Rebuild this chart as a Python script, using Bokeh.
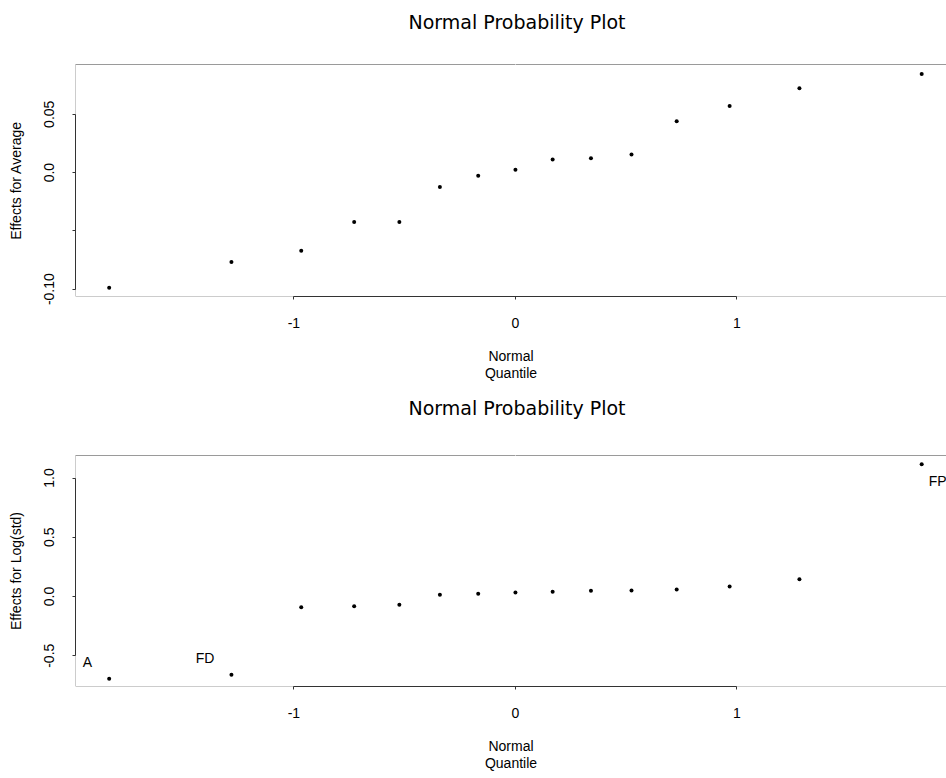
from bokeh.plotting import figure
from bokeh.layouts import column
from bokeh.models import FixedTicker, Span, ColumnDataSource, Range1d, LinearAxis
from bokeh.core.properties import value
from bokeh.embed import file_html
from bokeh.resources import INLINE

# ---- data ----
quantiles = [-1.834, -1.282, -0.967, -0.728, -0.524, -0.341, -0.168, 0.0,
             0.168, 0.341, 0.524, 0.728, 0.967, 1.282, 1.834]
effects_average = [-0.0988, -0.0768, -0.0671, -0.0425, -0.0425, -0.0124, -0.0027, 0.0025,
                   0.0113, 0.0122, 0.0156, 0.0440, 0.0571, 0.0723, 0.0846]
effects_logstd = [-0.695, -0.661, -0.090, -0.082, -0.070, 0.014, 0.023, 0.034,
                  0.040, 0.048, 0.051, 0.059, 0.084, 0.146, 1.116]
labels_logstd = ["A", "FD", "", "", "", "", "", "", "", "", "", "", "", "", "FP"]

x_ticks = [-1, 0, 1]
x_tick_labels = ["-1", "0", "1"]
avg_ticks = [-0.10, -0.05, 0.0, 0.05]
avg_tick_labels = ["-0.10", "", "0.0", "0.05"]
log_ticks = [-0.5, 0.0, 0.5, 1.0]
log_tick_labels = ["-0.5", "0.0", "0.5", "1.0"]

title_text = "Normal Probability Plot"
x_label = "Normal\nQuantile"
y_label_avg = "Effects for Average"
y_label_log = "Effects for Log(std)"

FONT = "Liberation Sans"
X_RANGE = (-1.986, 1.946)
BOX = "#9a9a9a"


def make_panel(y, ylab, yticks, ytick_labels, xr, yr, height, top_b, bottom_b, gap):
    p = figure(width=946, height=height, output_backend="svg", toolbar_location=None,
               x_range=Range1d(*xr), y_range=Range1d(*yr),
               min_border_left=75, min_border_right=0,
               min_border_top=top_b, min_border_bottom=bottom_b,
               title=title_text)
    p.title.align = "left"
    p.title.offset = 333
    p.title.text_font = "DejaVu Sans"
    p.title.text_font_size = "19px"
    p.title.text_font_style = "normal"
    p.title.text_color = "black"
    p.title.standoff = 4
    p.grid.visible = False
    p.outline_line_color = None
    p.background_fill_color = "white"
    p.border_fill_color = "white"

    xa = p.below[0]
    ya = p.left[0]

    # top edge of the box: an axis with one invisible tick, which also spaces the title
    spacer_tick = x_ticks[1]
    top_axis = LinearAxis(ticker=FixedTicker(ticks=[spacer_tick]), axis_line_color=BOX,
                          major_tick_out=gap, major_tick_in=0, major_tick_line_color="white",
                          minor_tick_line_color=None, major_label_standoff=0,
                          major_label_overrides={spacer_tick: ""},
                          major_label_text_color=None)
    p.add_layout(top_axis, "above")

    # bottom and left edges of the box
    for loc, dim in ((yr[0], "width"), (xr[0], "height")):
        p.add_layout(Span(location=loc, dimension=dim, line_color=BOX,
                          line_width=1, level="underlay"))

    for ax in (xa, ya):
        ax.axis_line_color = "#333333"
        ax.major_tick_line_color = "#333333"
        ax.minor_tick_line_color = None
        ax.major_tick_out = 3
        ax.major_tick_in = 0
        ax.major_label_text_font = FONT
        ax.major_label_text_font_size = "14px"
        ax.major_label_text_color = "black"
        ax.axis_label_text_font = FONT
        ax.axis_label_text_font_size = "14px"
        ax.axis_label_text_font_style = "normal"
        ax.axis_label_text_color = "black"
        ax.axis_label_text_line_height = 1.1

    xa.ticker = FixedTicker(ticks=x_ticks)
    xa.major_label_overrides = dict(zip(x_ticks, x_tick_labels))
    xa.bounds = (min(x_ticks), max(x_ticks))
    xa.major_label_standoff = 18
    xa.axis_label = x_label
    xa.axis_label_standoff = 17

    ya.ticker = FixedTicker(ticks=yticks)
    ya.major_label_overrides = dict(zip(yticks, ytick_labels))
    ya.bounds = (min(yticks), max(yticks))
    ya.major_label_orientation = "vertical"
    ya.major_label_standoff = 18
    ya.axis_label = ylab
    ya.axis_label_standoff = 18

    p.scatter(quantiles, y, size=4, color="black", line_width=0)
    return p


p1 = make_panel(effects_average, y_label_avg, avg_ticks, avg_tick_labels,
                X_RANGE, (-0.1063, 0.0927), 390, 64, 94, 30)
p2 = make_panel(effects_logstd, y_label_log, log_ticks, log_tick_labels,
                X_RANGE, (-0.7595, 1.19), 388, 65, 92, 35)

# point labels
def pick(cond):
    rows = [(q, v, l) for q, v, l in zip(quantiles, effects_logstd, labels_logstd) if l and cond(v)]
    return ColumnDataSource(dict(x=[r[0] for r in rows], y=[r[1] for r in rows], t=[r[2] for r in rows]))

low = pick(lambda v: v < 0)
high = pick(lambda v: v >= 0)
p2.text(x="x", y="y", text="t", source=low, text_font=value(FONT), text_font_size="14px",
        text_align="right", text_baseline="bottom", x_offset=-17, y_offset=-9, text_color="black")
p2.text(x="x", y="y", text="t", source=high, text_font=value(FONT), text_font_size="14px",
        text_align="left", text_baseline="top", x_offset=7, y_offset=9, text_color="black")

layout = column(p1, p2, spacing=0)
open("out.html", "w").write(file_html(layout, INLINE))
